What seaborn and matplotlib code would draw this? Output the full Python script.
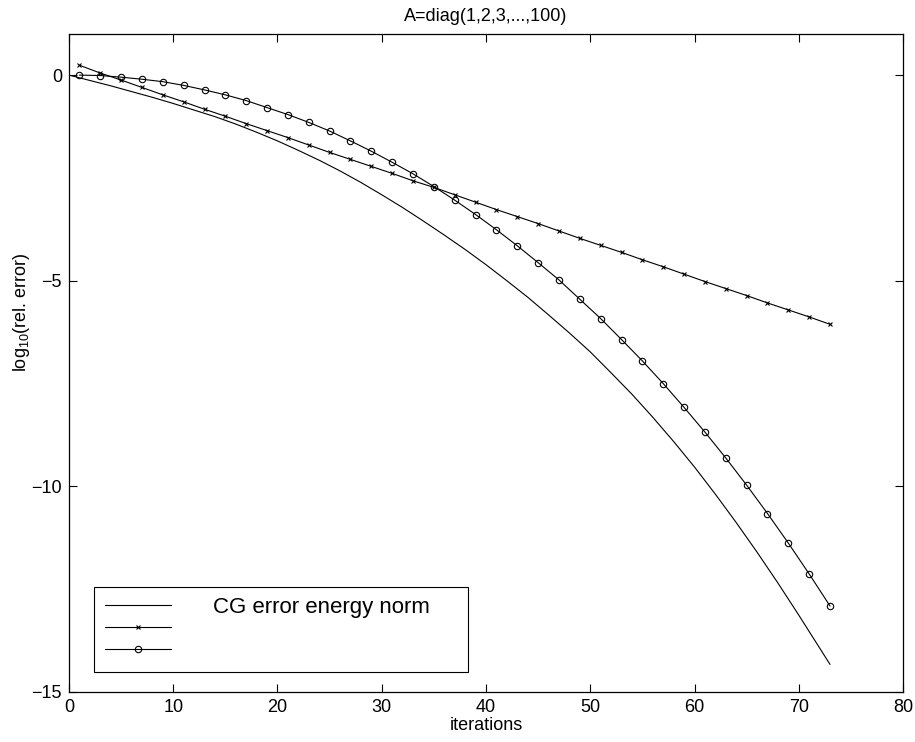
import numpy as np
import pandas as pd
import seaborn as sns
import matplotlib.pyplot as plt

# CG error in the energy norm (solid curve), read at even iterations
cg_iter = [0, 2, 4, 6, 8, 10, 12, 14, 16, 18, 20, 22, 24, 26, 28, 30, 32, 34, 36,
           38, 40, 42, 44, 46, 48, 50, 52, 54, 56, 58, 60, 62, 64, 66, 68, 70, 72, 73]
cg_err = [0.00, -0.13, -0.26, -0.40, -0.54, -0.69, -0.85, -1.01, -1.19, -1.39,
          -1.60, -1.83, -2.07, -2.33, -2.61, -2.91, -3.22, -3.55, -3.89, -4.24,
          -4.61, -5.00, -5.40, -5.83, -6.27, -6.73, -7.24, -7.76, -8.32, -8.91,
          -9.53, -10.19, -10.88, -11.60, -12.35, -13.13, -13.93, -14.33]

# Marked series, sampled at odd iterations
mk_iter = list(range(1, 74, 2))
cross_err = [0.24, 0.05, -0.12, -0.30, -0.48, -0.65, -0.83, -1.00, -1.18, -1.35,
             -1.52, -1.70, -1.88, -2.05, -2.22, -2.39, -2.57, -2.73, -2.91, -3.09,
             -3.27, -3.44, -3.61, -3.79, -3.97, -4.14, -4.31, -4.49, -4.66, -4.84,
             -5.02, -5.19, -5.36, -5.54, -5.71, -5.88, -6.06]
circle_err = [0.00, -0.01, -0.05, -0.10, -0.16, -0.25, -0.36, -0.48, -0.62, -0.79,
              -0.96, -1.15, -1.36, -1.60, -1.85, -2.12, -2.40, -2.71, -3.04, -3.39,
              -3.76, -4.15, -4.56, -4.98, -5.45, -5.92, -6.43, -6.95, -7.50, -8.08,
              -8.68, -9.31, -9.97, -10.66, -11.38, -12.13, -12.91]

title = "A=diag(1,2,3,...,100)"
xlabel = "iterations"
ylabel = "log$_{10}$(rel. error)"
legend_labels = ["CG error energy norm", " ", " "]
x_ticks = [0, 10, 20, 30, 40, 50, 60, 70, 80]
y_ticks = [0, -5, -10, -15]

sns.set_style("ticks")
plt.rcParams["font.family"] = ["Liberation Sans", "DejaVu Sans"]
plt.rcParams["mathtext.default"] = "regular"
plt.rcParams["text.color"] = "black"
plt.rcParams["axes.labelcolor"] = "black"
plt.rcParams["xtick.color"] = "black"
plt.rcParams["ytick.color"] = "black"

cg_df = pd.DataFrame({"it": cg_iter, "err": cg_err})
mk_df = pd.DataFrame({"it": mk_iter, "cross": cross_err, "circle": circle_err})

fig = plt.figure(figsize=(9.15, 7.42), dpi=100)
ax = fig.add_axes([0.0754, 0.0674, 0.9115, 0.8868])

lw = 0.8
sns.lineplot(data=cg_df, x="it", y="err", ax=ax, color="black", linewidth=lw,
             estimator=None, sort=True)
sns.lineplot(data=mk_df, x="it", y="cross", ax=ax, color="black", linewidth=lw,
             estimator=None, marker="x", markersize=3.2, markeredgewidth=0.8,
             markeredgecolor="black")
sns.lineplot(data=mk_df, x="it", y="circle", ax=ax, color="black", linewidth=lw,
             estimator=None, marker="o", markersize=4.6, markerfacecolor="none",
             markeredgecolor="black", markeredgewidth=0.8)

ax.set_xlim(0, 80)
ax.set_ylim(-15, 1)
ax.set_xticks(x_ticks)
ax.set_yticks(y_ticks)
ax.tick_params(direction="in", length=6, width=0.8, top=True, right=True,
               labelsize=13, colors="black")
ax.tick_params(axis="x", pad=5)
ax.tick_params(axis="y", pad=5)
for s in ax.spines.values():
    s.set_visible(True)
    s.set_linewidth(0.9)
    s.set_color("black")

ax.set_title(title, fontsize=13, pad=9, color="black")
ax.set_xlabel(xlabel, fontsize=13, labelpad=1)
ax.set_ylabel(ylabel, fontsize=13)
ax.yaxis.set_label_coords(-0.0444, 0.5775)

handles = ax.get_lines()[:3]
leg = ax.legend(handles, legend_labels, loc="lower left",
                bbox_to_anchor=(0.030, 0.030, 0.448, 0.1), mode="expand",
                fontsize=16, handlelength=3.0, handletextpad=1.87,
                labelspacing=0.03, borderpad=0.48, frameon=True,
                fancybox=False, framealpha=1, borderaxespad=0)
leg.get_frame().set_edgecolor("black")
leg.get_frame().set_linewidth(0.8)
for t in leg.get_texts():
    t.set_color("black")

fig.savefig("out.png", dpi=100, facecolor="white")
